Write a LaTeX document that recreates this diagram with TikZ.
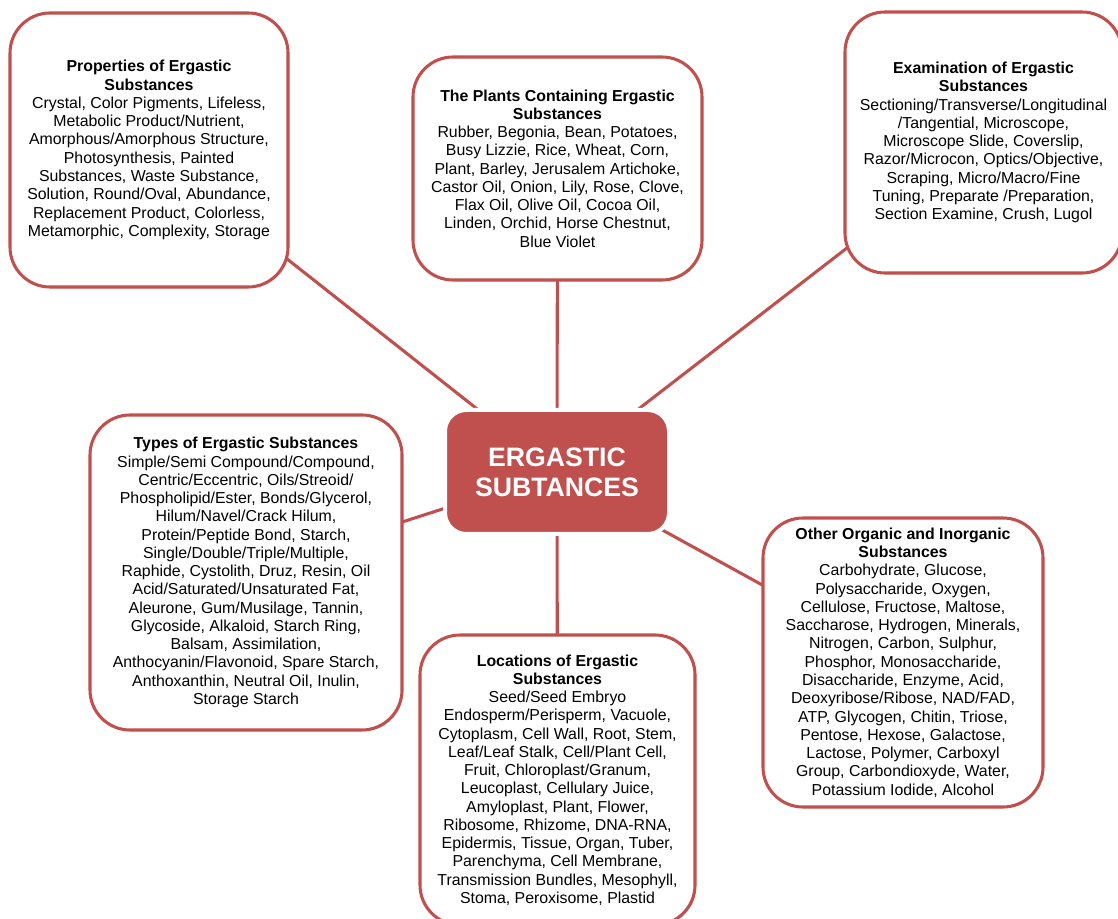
\documentclass[tikz,border=0pt]{standalone}
\usepackage{fontspec}
\setmainfont{Liberation Sans}
\usetikzlibrary{positioning,backgrounds,shadows}

\definecolor{ergred}{HTML}{C0504D}

\begin{document}
\begin{tikzpicture}[
            x=0.75pt, y=-0.75pt,
            box/.style={rectangle, rounded corners=30pt, draw=ergred, line width=2.3pt, fill=white, align=center,
                        font=\fontsize{11.9}{13.7}\selectfont, inner sep=0pt,
                        drop shadow={shadow xshift=1pt, shadow yshift=-1pt, opacity=0.25}},
            hub/.style={rectangle, rounded corners=16pt, draw=white, line width=3pt, fill=ergred, align=center,
                        text=white, font=\fontsize{20}{22.5}\selectfont\bfseries, inner sep=0pt,
                        minimum width=168pt, minimum height=93pt,
                        drop shadow={shadow xshift=1pt, shadow yshift=-1pt, opacity=0.3}},
            link/.style={draw=ergred, line width=2.3pt}
        ]
            \useasboundingbox (0,0) rectangle (1118,919);
            \clip (0,0) rectangle (1118,919);

            % Centre
            \node[hub] (ergastic) at (557,472) {ERGASTIC\\SUBTANCES};

            % Upper row
            \node[box, minimum width=208.5pt, minimum height=205.5pt] (props) at (149,150)
                {\textbf{Properties of Ergastic}\\\textbf{Substances}\\
                 Crystal, Color Pigments, Lifeless,\\Metabolic Product/Nutrient,\\
                 Amorphous/Amorphous Structure,\\Photosynthesis, Painted\\
                 Substances, Waste Substance,\\Solution, Round/Oval, Abundance,\\
                 Replacement Product, Colorless,\\Metamorphic, Complexity, Storage};
            \node[box, minimum width=216.75pt, minimum height=167.25pt] (plants) at (557.5,168.5)
                {\textbf{The Plants Containing Ergastic}\\\textbf{Substances}\\
                 Rubber, Begonia, Bean, Potatoes,\\Busy Lizzie, Rice, Wheat, Corn,\\
                 Plant, Barley, Jerusalem Artichoke,\\Castor Oil, Onion, Lily, Rose, Clove,\\
                 Flax Oil, Olive Oil, Cocoa Oil,\\Linden, Orchid, Horse Chestnut,\\
                 Blue Violet};
            \node[box, minimum width=207.75pt, minimum height=195.75pt] (exam) at (983.5,142.5)
                {\textbf{Examination of Ergastic}\\\textbf{Substances}\\
                 Sectioning/Transverse/Longitudinal\\/Tangential, Microscope,\\
                 Microscope Slide, Coverslip,\\Razor/Microcon, Optics/Objective,\\
                 Scraping, Micro/Macro/Fine\\Tuning, Preparate /Preparation,\\
                 Section Examine, Crush, Lugol};

            % Lower row
            \node[box, minimum width=234pt, minimum height=236.25pt] (types) at (246,572.5)
                {\textbf{Types of Ergastic Substances}\\
                 Simple/Semi Compound/Compound,\\Centric/Eccentric, Oils/Streoid/\\
                 Phospholipid/Ester, Bonds/Glycerol,\\Hilum/Navel/Crack Hilum,\\
                 Protein/Peptide Bond, Starch,\\Single/Double/Triple/Multiple,\\
                 Raphide, Cystolith, Druz, Resin, Oil\\Acid/Saturated/Unsaturated Fat,\\
                 Aleurone, Gum/Musilage, Tannin,\\Glycoside, Alkaloid, Starch Ring,\\
                 Balsam, Assimilation,\\Anthocyanin/Flavonoid, Spare Starch,\\
                 Anthoxanthin, Neutral Oil, Inulin,\\Storage Starch};
            \node[box, minimum width=206.25pt, minimum height=217.5pt] (locs) at (557.5,780)
                {\textbf{Locations of Ergastic}\\\textbf{Substances}\\
                 Seed/Seed Embryo\\Endosperm/Perisperm, Vacuole,\\
                 Cytoplasm, Cell Wall, Root, Stem,\\Leaf/Leaf Stalk, Cell/Plant Cell,\\
                 Fruit, Chloroplast/Granum,\\Leucoplast, Cellulary Juice,\\
                 Amyloplast, Plant, Flower,\\Ribosome, Rhizome, DNA-RNA,\\
                 Epidermis, Tissue, Organ, Tuber,\\Parenchyma, Cell Membrane,\\
                 Transmission Bundles, Mesophyll,\\Stoma, Peroxisome, Plastid};
            \node[box, minimum width=210pt, minimum height=216.75pt] (other) at (903,662.5)
                {\textbf{Other Organic and Inorganic}\\\textbf{Substances}\\
                 Carbohydrate, Glucose,\\Polysaccharide, Oxygen,\\
                 Cellulose, Fructose, Maltose,\\Saccharose, Hydrogen, Minerals,\\
                 Nitrogen, Carbon, Sulphur,\\Phosphor, Monosaccharide,\\
                 Disaccharide, Enzyme, Acid,\\Deoxyribose/Ribose, NAD/FAD,\\
                 ATP, Glycogen, Chitin, Triose,\\Pentose, Hexose, Galactose,\\
                 Lactose, Polymer, Carboxyl\\Group, Carbondioxyde, Water,\\
                 Potassium Iodide, Alcohol};

            % Links
            \begin{scope}[on background layer]
                \foreach \leaf in {props, plants, exam, types, locs, other}
                    \draw[link] (ergastic.center) -- (\leaf.center);
            \end{scope}
        \end{tikzpicture}
\end{document}
